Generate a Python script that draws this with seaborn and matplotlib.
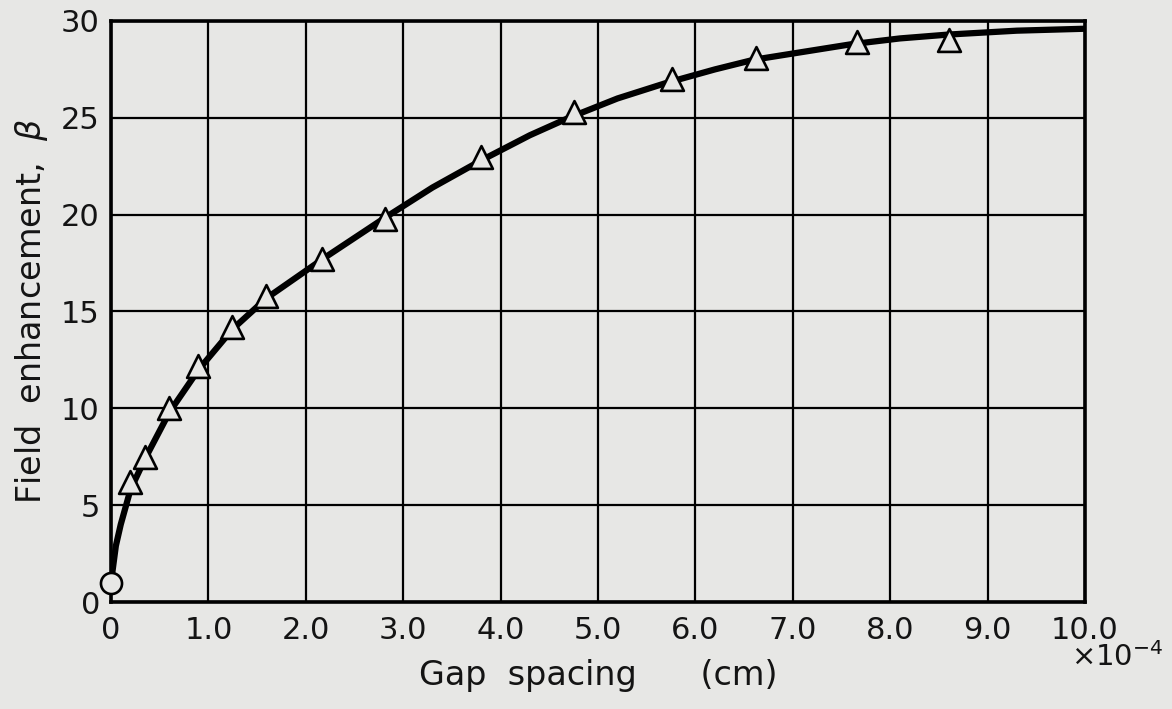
import numpy as np
import pandas as pd
from matplotlib import pyplot as plt
import seaborn as sns

# Gap spacing (x 1e-4 cm) and field enhancement
tri_gap = [0.2, 0.35, 0.6, 0.89, 1.24, 1.59, 2.17, 2.81, 3.80, 4.75, 5.76, 6.62, 7.66, 8.60]
tri_beta = [6.2, 7.5, 10.0, 12.2, 14.2, 15.8, 17.7, 19.8, 23.0, 25.3, 27.0, 28.1, 28.9, 29.0]

circ_gap = [0.0]
circ_beta = [1.0]

curve_gap = [0.0, 0.05, 0.1, 0.2, 0.35, 0.6, 0.9, 1.25, 1.6, 2.2, 2.8, 3.3, 3.8, 4.3,
             4.7, 5.2, 5.7, 6.2, 6.6, 7.1, 7.6, 8.1, 8.6, 9.3, 10.0]
curve_beta = [1.0, 2.9, 4.0, 5.8, 7.4, 9.8, 12.0, 14.1, 15.7, 17.8, 19.8, 21.4, 22.8, 24.1,
              25.0, 26.0, 26.8, 27.5, 28.0, 28.4, 28.8, 29.1, 29.3, 29.5, 29.6]

bg = "#e7e7e5"
ink = "#141414"
sns.set_theme(style="white")
plt.rcParams['font.family'] = ['DejaVu Sans']

fig = plt.figure(figsize=(11.72, 7.09), dpi=100, facecolor=bg)
ax = fig.add_axes([0.0947, 0.1509, 0.8311, 0.8195])
ax.set_facecolor(bg)

curve = pd.DataFrame({"gap": curve_gap, "beta": curve_beta})
sns.lineplot(data=curve, x="gap", y="beta", color="black", linewidth=4.5,
             sort=False, ax=ax, zorder=3, solid_joinstyle="round", solid_capstyle="round")

tri = pd.DataFrame({"gap": tri_gap, "beta": tri_beta})
sns.scatterplot(data=tri, x="gap", y="beta", marker="^", s=270, facecolor=bg,
                edgecolor="black", linewidth=1.9, ax=ax, zorder=4)
circ = pd.DataFrame({"gap": circ_gap, "beta": circ_beta})
sns.scatterplot(data=circ, x="gap", y="beta", marker="o", s=230, facecolor=bg,
                edgecolor="black", linewidth=1.9, ax=ax, zorder=4, clip_on=False)

ax.set_xlim(0, 10)
ax.set_ylim(0, 30)
ax.set_xticks(np.arange(0, 11, 1))
ax.set_xticklabels(["0"] + [f"{v:.1f}" for v in range(1, 11)])
ax.set_yticks(np.arange(0, 31, 5))
ax.grid(True, color="black", linewidth=1.6)
ax.tick_params(length=0, labelsize=22, colors=ink)
ax.tick_params(axis="x", pad=10)
ax.tick_params(axis="y", pad=8)
for s in ax.spines.values():
    s.set_color("black")
    s.set_linewidth(2.6)

ax.set_xlabel("Gap  spacing      (cm)", fontsize=24, color=ink, labelpad=10)
ax.set_ylabel("Field  enhancement,  $\\beta$", fontsize=24, color=ink, labelpad=8)
fig.text(0.953, 0.073, "×10$^{-4}$", fontsize=21, color=ink, ha="center", va="center")

fig.savefig("out.png", dpi=100, facecolor=bg)
